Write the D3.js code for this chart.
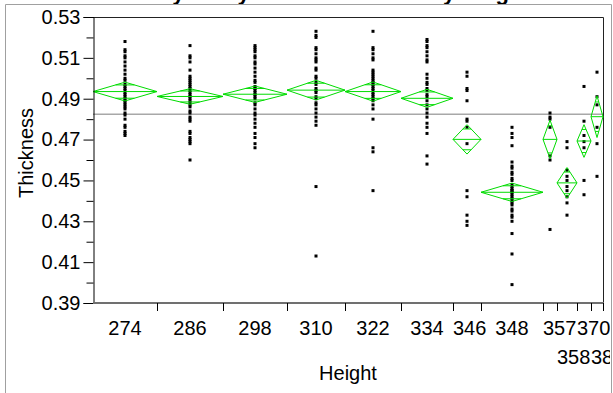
<!DOCTYPE html>
<html>
<head>
<meta charset="utf-8">
<script src="https://cdn.jsdelivr.net/npm/d3@7"></script>
<style>
  html, body { margin: 0; padding: 0; background: #fff; }
  svg { display: block; }
  text { font-family: "Liberation Sans", Arial, sans-serif; fill: #000; }
</style>
</head>
<body>
<svg id="chart" width="613" height="393"></svg>
<script>
// Height groups (x categories)
const heights = ["274", "286", "298", "310", "322", "334", "346", "348", "357", "358", "370", "380"];

// Thickness measurements per height group
const thick274 = [0.518, 0.514, 0.513, 0.511, 0.510, 0.508, 0.506, 0.504, 0.502, 0.500, 0.499, 0.497, 0.496, 0.495, 0.494, 0.493,
                  0.492, 0.491, 0.490, 0.489, 0.488, 0.487, 0.486, 0.485, 0.483, 0.482, 0.480, 0.477, 0.476, 0.474, 0.473, 0.472];
const thick286 = [0.516, 0.511, 0.510, 0.508, 0.504, 0.501, 0.500, 0.499, 0.498, 0.497, 0.496, 0.495, 0.494, 0.493, 0.492, 0.491,
                  0.490, 0.489, 0.488, 0.487, 0.486, 0.484, 0.483, 0.481, 0.480, 0.479, 0.474, 0.473, 0.471, 0.470, 0.469, 0.468, 0.460];
const thick298 = [0.516, 0.515, 0.514, 0.513, 0.511, 0.510, 0.508, 0.507, 0.505, 0.503, 0.501, 0.499, 0.498, 0.496, 0.495, 0.494,
                  0.493, 0.492, 0.491, 0.490, 0.488, 0.487, 0.485, 0.483, 0.482, 0.480, 0.478, 0.476, 0.473, 0.471, 0.468, 0.466];
const thick310 = [0.523, 0.521, 0.520, 0.515, 0.514, 0.512, 0.510, 0.509, 0.508, 0.505, 0.504, 0.501, 0.500, 0.498, 0.497,
                  0.495, 0.494, 0.493, 0.491, 0.490, 0.488, 0.487, 0.485, 0.483, 0.481, 0.479, 0.477, 0.447, 0.413];
const thick322 = [0.523, 0.515, 0.514, 0.512, 0.510, 0.509, 0.504, 0.503, 0.502, 0.501, 0.500, 0.499, 0.498, 0.497,
                  0.496, 0.495, 0.494, 0.493, 0.492, 0.491, 0.490, 0.489, 0.487, 0.485, 0.480, 0.466, 0.464, 0.445];
const thick334 = [0.519, 0.518, 0.516, 0.515, 0.513, 0.511, 0.509, 0.508, 0.502, 0.500, 0.498, 0.497, 0.495,
                  0.494, 0.492, 0.491, 0.489, 0.487, 0.485, 0.483, 0.481, 0.478, 0.476, 0.473, 0.462, 0.458];
const thick346 = [0.503, 0.501, 0.495, 0.494, 0.489, 0.480, 0.479, 0.476, 0.468, 0.445, 0.442, 0.433, 0.430, 0.428];
const thick348 = [0.476, 0.473, 0.471, 0.467, 0.459, 0.457, 0.456, 0.454, 0.453, 0.451, 0.450, 0.448, 0.447, 0.446, 0.445, 0.445,
                  0.444, 0.443, 0.442, 0.441, 0.440, 0.439, 0.438, 0.436, 0.435, 0.433, 0.432, 0.430, 0.424, 0.414, 0.399];
const thick357 = [0.483, 0.481, 0.480, 0.476, 0.462, 0.460, 0.426];
const thick358 = [0.469, 0.466, 0.455, 0.452, 0.450, 0.447, 0.445, 0.442, 0.439, 0.433];
const thick370 = [0.496, 0.479, 0.472, 0.469, 0.466, 0.450, 0.443];
const thick380 = [0.503, 0.491, 0.487, 0.476, 0.468, 0.452];

const groupValues = [thick274, thick286, thick298, thick310, thick322, thick334,
                     thick346, thick348, thick357, thick358, thick370, thick380];

// Group means and 95% confidence half-widths (mean diamonds)
const groupMeans = [0.4935, 0.4911, 0.4922, 0.4942, 0.4935, 0.4902, 0.4701, 0.4442, 0.4701, 0.4488, 0.4693, 0.4812];
const ciHalf     = [0.0046, 0.0038, 0.0040, 0.0048, 0.0047, 0.0044, 0.0072, 0.0045, 0.0094, 0.0075, 0.0080, 0.0102];
const grandMean = 0.4824;

// Y axis ticks
const yMajorTicks = [0.39, 0.41, 0.43, 0.45, 0.47, 0.49, 0.51, 0.53];
const yMinorTicks = [0.40, 0.42, 0.44, 0.46, 0.48, 0.50, 0.52];

const svg = d3.select("#chart");
const W = 613, H = 393;
const plot = { left: 93, right: 603, top: 17, bottom: 303 };
const GREEN = "#00dc00";
const FONT = 20;

// Clip region inside the report frame
svg.append("defs").append("clipPath").attr("id", "frameClip")
  .append("rect").attr("x", 6).attr("y", 5).attr("width", 604).attr("height", H);

// Report title, scrolled mostly out of view above the frame
svg.append("text")
  .attr("x", 315).attr("y", 0)
  .attr("font-size", 22).attr("font-weight", "bold")
  .attr("text-anchor", "middle")
  .text("Oneway Analysis of Thickness By Height");

const frame = svg.append("g");
frame.append("path")
  .attr("d", `M5.5,${H} V4.5 H611.5 V${H}`)
  .attr("fill", "none").attr("stroke", "#a0a0a0").attr("stroke-width", 1);

const g = svg.append("g").attr("clip-path", "url(#frameClip)");

// Scales: x bands are proportional to group size
const counts = groupValues.map(v => v.length);
const cum = [0];
counts.forEach(c => cum.push(cum[cum.length - 1] + c));
const x = d3.scaleLinear().domain([0, cum[cum.length - 1]]).range([plot.left, plot.right]);
const y = d3.scaleLinear().domain([0.39, 0.53]).range([plot.bottom, plot.top]);

const groups = heights.map((h, i) => ({
  name: h,
  values: groupValues[i],
  mean: groupMeans[i],
  ci: ciHalf[i],
  x0: x(cum[i]),
  x1: x(cum[i + 1]),
  xc: (x(cum[i]) + x(cum[i + 1])) / 2
}));

// Plot border (top & right)
g.append("path")
  .attr("d", `M${plot.left},${plot.top + 0.5} H${plot.right + 0.5} V${plot.bottom}`)
  .attr("fill", "none").attr("stroke", "#222").attr("stroke-width", 1);

// Grand mean line
g.append("line")
  .attr("x1", plot.left).attr("x2", plot.right)
  .attr("y1", y(grandMean)).attr("y2", y(grandMean))
  .attr("stroke", "#a8a8a8").attr("stroke-width", 1.5);

// Data points
const pts = g.append("g");
groups.forEach(gr => {
  pts.selectAll(null).data(gr.values).enter().append("rect")
    .attr("x", gr.xc - 1.5)
    .attr("y", d => y(d) - 1.5)
    .attr("width", 3).attr("height", 3)
    .attr("fill", "#000");
});

// Mean diamonds with overlap marks
const dia = g.append("g").attr("fill", "none").attr("stroke", GREEN).attr("stroke-width", 1);
const k = Math.SQRT1_2;
groups.forEach(gr => {
  const ym = y(gr.mean), yt = y(gr.mean + gr.ci), yb = y(gr.mean - gr.ci);
  dia.append("path").attr("d", `M${gr.x0},${ym} L${gr.xc},${yt} L${gr.x1},${ym} L${gr.xc},${yb} Z`);
  dia.append("line").attr("x1", gr.x0).attr("x2", gr.x1).attr("y1", ym).attr("y2", ym);
  const half = (gr.x1 - gr.x0) / 2;
  [gr.mean + gr.ci * k, gr.mean - gr.ci * k].forEach(v => {
    const w = half * (1 - k);
    dia.append("line")
      .attr("x1", gr.xc - w).attr("x2", gr.xc + w)
      .attr("y1", y(v)).attr("y2", y(v));
  });
});

// Y axis
const yAxis = g.append("g").attr("transform", `translate(${plot.left + 0.5},0)`)
  .call(d3.axisLeft(y).tickValues(yMajorTicks).tickSize(10).tickPadding(3).tickFormat(d3.format(".2f")));
yAxis.select(".domain").attr("stroke", "#000");
yAxis.selectAll(".tick line").attr("stroke", "#000");
yAxis.selectAll("text").attr("font-size", FONT).attr("font-family", "Liberation Sans, Arial, sans-serif");
g.append("g").attr("transform", `translate(${plot.left + 0.5},0)`)
  .call(d3.axisLeft(y).tickValues(yMinorTicks).tickSize(7).tickFormat(""))
  .call(s => s.select(".domain").remove());

// X axis: band boundary ticks
const xAxisG = g.append("g");
xAxisG.append("line")
  .attr("x1", plot.left).attr("x2", plot.right + 1)
  .attr("y1", plot.bottom).attr("y2", plot.bottom)
  .attr("stroke", "#707070").attr("stroke-width", 2);
xAxisG.selectAll(".xt").data(cum.slice(1)).enter().append("line")
  .attr("x1", d => Math.round(x(d)) + 0.5).attr("x2", d => Math.round(x(d)) + 0.5)
  .attr("y1", plot.bottom).attr("y2", plot.bottom + 8)
  .attr("stroke", "#000");

// X tick labels: centered in wide bands, left-aligned in narrow ones, staggered when crowded
const rowBaselines = [335, 364];
const rowEnds = [-Infinity, -Infinity];
groups.forEach(gr => {
  const t = xAxisG.append("text").attr("font-size", FONT).text(gr.name);
  const w = t.node().getComputedTextLength();
  const bw = gr.x1 - gr.x0;
  const start = w > bw ? gr.x0 : gr.xc - w / 2;
  let row = 0;
  if (start < rowEnds[0] - 0.5) row = 1;
  rowEnds[row] = start + w;
  t.attr("x", start).attr("y", rowBaselines[row]);
});

// Axis titles
g.append("text")
  .attr("transform", "translate(33,153) rotate(-90)")
  .attr("text-anchor", "middle").attr("font-size", FONT)
  .text("Thickness");
g.append("text")
  .attr("x", (plot.left + plot.right) / 2).attr("y", 380)
  .attr("text-anchor", "middle").attr("font-size", FONT)
  .text("Height");
</script>
</body>
</html>
